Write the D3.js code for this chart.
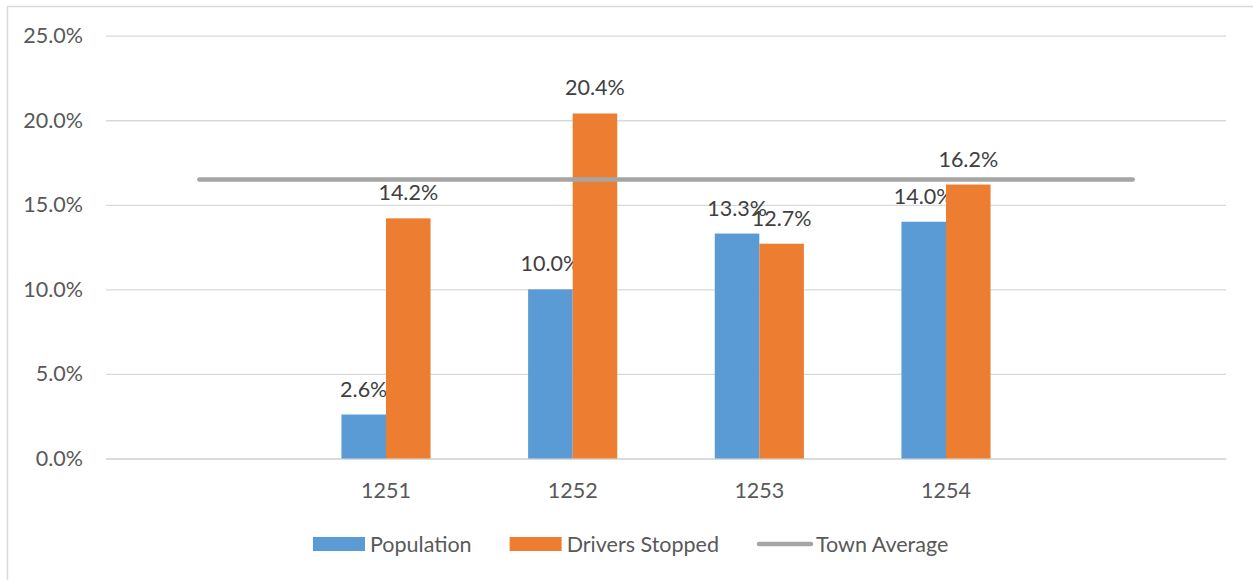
<!DOCTYPE html>
<html>
<head>
<meta charset="utf-8">
<script src="https://cdn.jsdelivr.net/npm/d3@7"></script>
<style>
  body { margin: 0; background: #fff; }
  svg { display: block; font-family: Lato, "Open Sans", sans-serif; }
</style>
</head>
<body>
<svg id="chart"></svg>
<script>
// chart data
const categories = ["", "1251", "1252", "1253", "1254", ""];
const population = [null, 2.6, 10.0, 13.3, 14.0, null];
const driversStopped = [null, 14.2, 20.4, 12.7, 16.2, null];
const townAverage = [16.5, 16.5, 16.5, 16.5, 16.5, 16.5];
const yTicks = [0, 5, 10, 15, 20, 25];
const seriesNames = ["Population", "Drivers Stopped", "Town Average"];

const width = 1253;
const height = 580;
const fontSize = 21.5;
const plot = { left: 106, right: 1226, top: 35.7, bottom: 458.5 };
const colors = { Population: "#5B9BD5", "Drivers Stopped": "#ED7D31", "Town Average": "#A5A5A5" };

const svg = d3.select("#chart").attr("width", width).attr("height", height);

// outer chart border
svg.append("rect")
  .attr("x", 7.5).attr("y", 6.5)
  .attr("width", 1260).attr("height", 600)
  .attr("fill", "none").attr("stroke", "#d9d9d9").attr("stroke-width", 1.5);

// scales
const x = d3.scaleBand()
  .domain(d3.range(categories.length))
  .range([plot.left, plot.right])
  .padding(0);

const barW = x.bandwidth() / (2 + 2.19);
const x1 = d3.scaleBand()
  .domain(["Population", "Drivers Stopped"])
  .range([-barW, barW]);

const y = d3.scaleLinear().domain([0, 25]).range([plot.bottom, plot.top]);

// gridlines + y labels
const yAxis = d3.axisLeft(y)
  .tickValues(yTicks)
  .tickSize(-(plot.right - plot.left))
  .tickPadding(23)
  .tickFormat((d) => d3.format(".1f")(d) + "%");

const gy = svg.append("g")
  .attr("transform", `translate(${plot.left},0)`)
  .call(yAxis);
gy.select(".domain").remove();
gy.selectAll(".tick line").attr("stroke", "#d9d9d9").attr("stroke-width", 1.3);
gy.selectAll(".tick text")
  .attr("fill", "#595959")
  .attr("font-size", fontSize)
  .attr("font-family", "Lato, sans-serif");

// x labels
const xAxis = d3.axisBottom(x)
  .tickSize(0)
  .tickPadding(24)
  .tickFormat((i) => categories[i]);
const gx = svg.append("g")
  .attr("transform", `translate(0,${plot.bottom})`)
  .call(xAxis);
gx.select(".domain").attr("stroke", "#d9d9d9").attr("stroke-width", 1.3);
gx.selectAll(".tick text")
  .attr("fill", "#595959")
  .attr("font-size", fontSize)
  .attr("font-family", "Lato, sans-serif");

// bars
const barSeries = [
  { name: "Population", values: population },
  { name: "Drivers Stopped", values: driversStopped }
];

barSeries.forEach((s) => {
  const pts = s.values
    .map((v, i) => ({ i, v }))
    .filter((d) => d.v != null);

  svg.append("g")
    .selectAll("rect")
    .data(pts)
    .join("rect")
    .attr("x", (d) => x(d.i) + x.bandwidth() / 2 + x1(s.name))
    .attr("y", (d) => y(d.v))
    .attr("width", x1.bandwidth())
    .attr("height", (d) => y(0) - y(d.v))
    .attr("fill", colors[s.name]);

  svg.append("g")
    .selectAll("text")
    .data(pts)
    .join("text")
    .attr("x", (d) => x(d.i) + x.bandwidth() / 2 + x1(s.name) + x1.bandwidth() / 2)
    .attr("y", (d) => y(d.v) - 18)
    .attr("text-anchor", "middle")
    .attr("fill", "#404040")
    .attr("font-size", fontSize)
    .text((d) => d.v.toFixed(1) + "%");
});

// town average line
const line = d3.line()
  .x((d, i) => x(i) + x.bandwidth() / 2)
  .y((d) => y(d));

svg.append("path")
  .datum(townAverage)
  .attr("d", line)
  .attr("fill", "none")
  .attr("stroke", colors["Town Average"])
  .attr("stroke-width", 4.5)
  .attr("stroke-linecap", "round");

// legend
const legend = svg.append("g").attr("transform", "translate(313,544)");
let lx = 0;
seriesNames.forEach((name) => {
  const item = legend.append("g").attr("transform", `translate(${lx},0)`);
  if (name === "Town Average") {
    item.append("line")
      .attr("x1", 2).attr("x2", 54)
      .attr("y1", 0).attr("y2", 0)
      .attr("stroke", colors[name])
      .attr("stroke-width", 4.5)
      .attr("stroke-linecap", "round");
  } else {
    item.append("rect")
      .attr("x", 0).attr("y", -7)
      .attr("width", 52).attr("height", 14)
      .attr("fill", colors[name]);
  }
  const t = item.append("text")
    .attr("x", name === "Town Average" ? 59 : 57)
    .attr("y", 7.5)
    .attr("fill", "#595959")
    .attr("font-size", fontSize)
    .text(name);
  lx += 57 + t.node().getComputedTextLength() + 38;
});
</script>
</body>
</html>
